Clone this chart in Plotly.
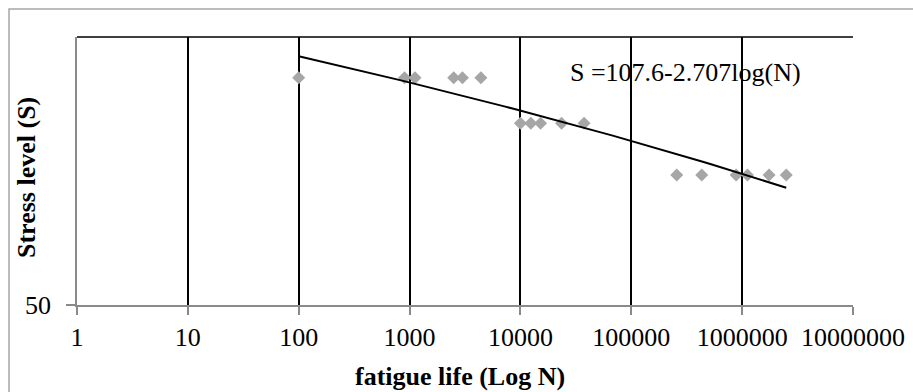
import numpy as np
import plotly.graph_objects as go

# Fatigue test results: cycles to failure at each stress level
stress_levels = [90, 80, 70]
cycles_s90 = [100, 900, 1120, 2500, 3000, 4400]
cycles_s80 = [10000, 12400, 15200, 23500, 37500]
cycles_s70 = [257000, 432000, 883000, 1117000, 1750000, 2500000]

# Fitted S-N relationship: S = a - b*ln(N)
fit_a = 107.6
fit_b = 2.707
fit_label = "S =107.6-2.707log(N)"

x_ticks = [1, 10, 100, 1000, 10000, 100000, 1000000, 10000000]
y_min, y_max = 50, 100

x_title = "fatigue life (Log N)"
y_title = "Stress level (S)"

all_n = cycles_s90 + cycles_s80 + cycles_s70
all_s = ([stress_levels[0]] * len(cycles_s90) + [stress_levels[1]] * len(cycles_s80)
         + [stress_levels[2]] * len(cycles_s70))

FONT = "Liberation Serif, Times New Roman, serif"
FSIZE = 26
AXIS_GREY = "#8a8a8a"

fig = go.Figure()

fig.add_trace(go.Scatter(
    x=all_n, y=all_s, mode="markers",
    marker=dict(symbol="diamond", size=10, color="#a6a6a6", line=dict(width=0)),
    showlegend=False, hoverinfo="x+y",
))

n_fit = np.logspace(np.log10(min(all_n)), np.log10(max(all_n)), 60)
s_fit = fit_a - fit_b * np.log(n_fit)
fig.add_trace(go.Scatter(
    x=n_fit, y=s_fit, mode="lines",
    line=dict(color="black", width=2),
    showlegend=False, hoverinfo="skip",
))

fig.add_annotation(
    x=4.43, y=np.log10(91.2), xref="x", yref="y",
    text=fit_label, showarrow=False, xanchor="left", yanchor="middle",
    font=dict(family=FONT, size=FSIZE, color="black"),
)

# Axis titles
fig.add_annotation(
    x=0.4936, y=-0.265, xref="paper", yref="paper",
    text=f"<b>{x_title}</b>", showarrow=False,
    xanchor="center", yanchor="middle",
    font=dict(family=FONT, size=FSIZE, color="black"),
)
fig.add_annotation(
    x=-0.0644, y=0.474, xref="paper", yref="paper",
    text=f"<b>{y_title}</b>", showarrow=False, textangle=-90,
    xanchor="center", yanchor="middle",
    font=dict(family=FONT, size=FSIZE, color="black"),
)

# Chart-area border and top edge of the plot area
fig.add_shape(type="rect", xref="paper", yref="paper",
              x0=-0.0876, x1=1.09, y0=-0.34, y1=1.1045,
              line=dict(color="#a6a6a6", width=1.5), layer="below")
fig.add_shape(type="line", xref="paper", yref="paper",
              x0=0, x1=1, y0=1, y1=1,
              line=dict(color="black", width=1.5))

fig.update_xaxes(
    type="log", range=[0, 7], automargin=False,
    tickvals=x_ticks, ticktext=[str(v) for v in x_ticks],
    tickfont=dict(family=FONT, size=FSIZE, color="black"),
    ticks="outside", ticklen=8, tickcolor=AXIS_GREY, tickwidth=1.5,
    showgrid=True, gridcolor="black", gridwidth=1.5,
    showline=True, linecolor=AXIS_GREY, linewidth=1.5,
    zeroline=False,
)
fig.update_yaxes(
    type="log", range=[np.log10(y_min), np.log10(y_max)], automargin=False,
    tickvals=[y_min], ticktext=[str(y_min)],
    tickfont=dict(family=FONT, size=FSIZE, color="black"),
    ticks="outside", ticklen=9, tickcolor=AXIS_GREY, tickwidth=1.5,
    ticklabelstandoff=10,
    showgrid=False,
    showline=True, linecolor=AXIS_GREY, linewidth=1.5,
    zeroline=False,
)

fig.update_layout(
    width=913, height=392,
    margin=dict(l=77, r=60, t=37, b=87),
    paper_bgcolor="white", plot_bgcolor="white",
)

fig.write_html("out.html")
